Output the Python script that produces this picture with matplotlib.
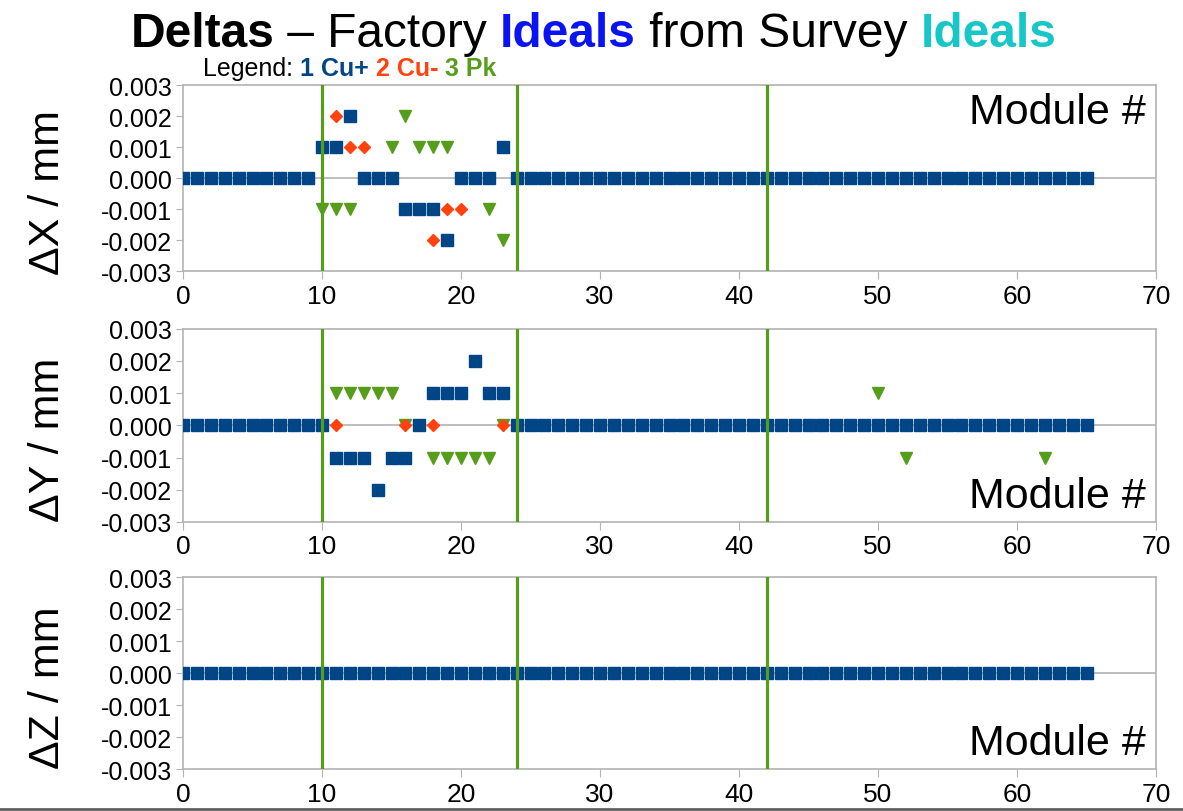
import numpy as np
import matplotlib
matplotlib.use("Agg")
import matplotlib.pyplot as plt
from matplotlib.lines import Line2D

plt.rcParams["font.family"] = ["Liberation Sans", "DejaVu Sans"]

# module numbers 0..65
modules = list(range(66))
boundaries = [10, 24, 42]

# delta X (mm)
dx_cu_plus = [0.0] * 10 + [0.001, 0.001, 0.002, 0.0, 0.0, 0.0, -0.001, -0.001, -0.001,
                           -0.002, 0.0, 0.0, 0.0, 0.001] + [0.0] * 42
dx_cu_minus_mod = [11, 12, 13, 18, 19, 20]
dx_cu_minus = [0.002, 0.001, 0.001, -0.002, -0.001, -0.001]
dx_pk_mod = [10, 11, 12, 15, 16, 17, 18, 19, 22, 23]
dx_pk = [-0.001, -0.001, -0.001, 0.001, 0.002, 0.001, 0.001, 0.001, -0.001, -0.002]

# delta Y (mm)
dy_cu_plus = [0.0] * 11 + [-0.001, -0.001, -0.001, -0.002, -0.001, -0.001, 0.0, 0.001,
                           0.001, 0.001, 0.002, 0.001, 0.001] + [0.0] * 42
dy_cu_minus_mod = [11, 16, 18, 23]
dy_cu_minus = [0.0, 0.0, 0.0, 0.0]
dy_pk_mod = [11, 12, 13, 14, 15, 16, 18, 19, 20, 21, 22, 23, 50, 52, 62]
dy_pk = [0.001, 0.001, 0.001, 0.001, 0.001, 0.0, -0.001, -0.001, -0.001, -0.001, -0.001,
         0.0, 0.001, -0.001, -0.001]

# delta Z (mm)
dz_cu_plus = [0.0] * 66
dz_cu_minus_mod = []
dz_cu_minus = []
dz_pk_mod = []
dz_pk = []

yticks = [-0.003, -0.002, -0.001, 0.0, 0.001, 0.002, 0.003]
xticks = [0, 10, 20, 30, 40, 50, 60, 70]

c_plus = "#004586"
c_minus = "#ff420e"
c_pk = "#579d1c"
c_frame = "#b3b3b3"


def rich_text(fig, x, y, parts, size, ha="center"):
    renderer = fig.canvas.get_renderer()
    texts = []
    for s, color, weight in parts:
        t = fig.text(0, y, s, color=color, fontweight=weight, fontsize=size,
                     va="baseline", ha="left")
        texts.append(t)
    widths = [t.get_window_extent(renderer).width / fig.bbox.width for t in texts]
    start = x - sum(widths) / 2 if ha == "center" else x
    for t, w in zip(texts, widths):
        t.set_x(start)
        start += w


def panel(ax, cu_plus, minus_mod, minus, pk_mod, pk, ylabel, label_top):
    ax.plot(pk_mod, pk, linestyle="none", marker="v", markersize=9, color=c_pk, zorder=3)
    ax.plot(minus_mod, minus, linestyle="none", marker="D", markersize=6.5,
            color=c_minus, zorder=4)
    ax.plot(modules, cu_plus, linestyle="none", marker="s", markersize=8.7,
            color=c_plus, zorder=5)
    for b in boundaries:
        ax.axvline(b, color=c_pk, linewidth=2.3, zorder=6)
    ax.axhline(0, color=c_frame, linewidth=1.2, zorder=1)
    ax.set_xlim(0, 70)
    ax.set_ylim(-0.003, 0.003)
    ax.set_xticks(xticks)
    ax.set_yticks(yticks)
    ax.set_yticklabels(["%.3f" % v for v in yticks])
    ax.tick_params(axis="y", labelsize=18, length=5, color=c_frame, pad=3)
    ax.tick_params(axis="x", labelsize=19, length=6, color=c_frame, pad=3)
    for s in ax.spines.values():
        s.set_color(c_frame)
        s.set_linewidth(1.2)
    ax.set_ylabel(ylabel, fontsize=31)
    ax.yaxis.set_label_coords(-0.118, 0.43)
    if label_top:
        ax.text(0.99, 0.965, "Module #", transform=ax.transAxes, ha="right", va="top",
                fontsize=31)
    else:
        ax.text(0.99, 0.03, "Module #", transform=ax.transAxes, ha="right", va="bottom",
                fontsize=31)


fig = plt.figure(figsize=(11.83, 8.12), dpi=100)
left, width = 0.1547, 0.8225
ax1 = fig.add_axes([left, 0.665, width, 0.229])
ax2 = fig.add_axes([left, 0.356, width, 0.238])
ax3 = fig.add_axes([left, 0.0517, width, 0.236])

panel(ax1, dx_cu_plus, dx_cu_minus_mod, dx_cu_minus, dx_pk_mod, dx_pk, "ΔX / mm", True)
panel(ax2, dy_cu_plus, dy_cu_minus_mod, dy_cu_minus, dy_pk_mod, dy_pk, "ΔY / mm", False)
panel(ax3, dz_cu_plus, dz_cu_minus_mod, dz_cu_minus, dz_pk_mod, dz_pk, "ΔZ / mm", False)

rich_text(fig, 0.5017, 0.942, [("Deltas", "black", "bold"),
                               (" – Factory ", "black", "normal"),
                               ("Ideals", "#0a14f0", "bold"),
                               (" from Survey ", "black", "normal"),
                               ("Ideals", "#17c6c8", "bold")], 34.5)
rich_text(fig, 0.1716, 0.906, [("Legend: ", "black", "normal"),
                               ("1 Cu+ ", c_plus, "bold"),
                               ("2 Cu- ", c_minus, "bold"),
                               ("3 Pk", c_pk, "bold")], 18, ha="left")

fig.add_artist(Line2D([0, 1], [0.003, 0.003], color="#606060", linewidth=2))

fig.savefig("out.png", dpi=100)
